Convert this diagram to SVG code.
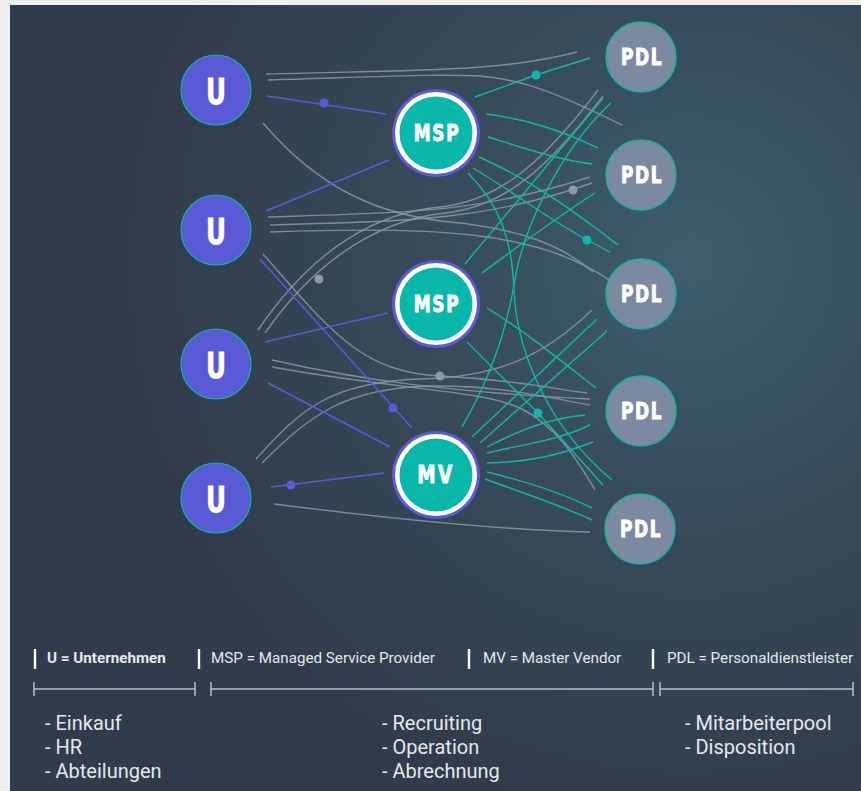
<svg xmlns="http://www.w3.org/2000/svg" width="861" height="791" viewBox="0 0 861 791">
<defs>
<radialGradient id="bg" gradientUnits="userSpaceOnUse" cx="690" cy="260" r="560">
<stop offset="0" stop-color="#3b5e6d"/>
<stop offset="0.45" stop-color="#374b5b"/>
<stop offset="1" stop-color="#323b4b"/>
</radialGradient>
<style>
.g{fill:none;stroke:#8d97a6;stroke-width:1.4;opacity:0.85}
.p{fill:none;stroke:#5a59d6;stroke-width:1.5}
.t{fill:none;stroke:#0fb8a9;stroke-width:1.4}
.dg{fill:#8d97a6}
.dp{fill:#5a59d6}
.dt{fill:#0fb8a9}
.u{fill:#5a59d6;stroke:#14b3a6;stroke-width:1.2}
.pdl{fill:#7b8aa0;stroke:#14b3a6;stroke-width:1.4}
.ring{fill:#5a59d6}
.white{fill:#ffffff}
.core{fill:#0ab8aa}
.lbl{font-family:"DejaVu Sans Condensed","DejaVu Sans",sans-serif;font-weight:bold;fill:#ffffff;stroke:#ffffff;stroke-width:0.9;text-anchor:middle}
.leg{font-family:Roboto,"Liberation Sans",sans-serif;font-size:15.2px;fill:#e4e8ee}
.list{font-family:Roboto,"Liberation Sans",sans-serif;font-size:20px;fill:#e4e8ee}
.bar{stroke:#ffffff;stroke-width:2.4}
.br{stroke:#b7bec9;stroke-width:1.5;fill:none}
</style>
</defs>
<rect x="0" y="0" width="861" height="791" fill="#efefef"/>
<rect x="10" y="5" width="851" height="786" fill="url(#bg)"/>

<g id="connectors">
<path class="g" d="M266,74 C420,70 500,72 577,52"/>
<path class="g" d="M268,80 C400,76 440,74 480,76 C530,80 570,100 622,125"/>
<path class="g" d="M263,123 C320,190 380,215 450,222 C520,229 562,245 593,272"/>
<path class="g" d="M268,217 C420,212 480,212 590,177"/>
<path class="g" d="M270,225 C420,221 490,219 592,183"/>
<path class="g" d="M270,232 C430,226 540,230 612,282"/>
<path class="g" d="M263,254 C330,330 360,372 440,376 C520,380 560,390 587,393"/>
<path class="g" d="M258,330 C300,268 360,214 440,207 C500,201 545,160 598,90"/>
<path class="g" d="M265,333 C306,274 366,221 446,213 C506,206 550,166 603,96"/>
<path class="g" d="M272,360 C360,380 450,392 590,399"/>
<path class="g" d="M272,367 C400,390 480,390 520,408 C560,428 580,465 595,490"/>
<path class="g" d="M256,459 C300,410 330,382 420,379 C500,377 545,355 592,310"/>
<path class="g" d="M262,463 C310,415 345,388 430,386 C500,385 550,398 590,405"/>
<path class="g" d="M274,504 C400,520 500,530 590,532"/>
<path class="p" d="M267,96 L386,114"/>
<path class="p" d="M266,211 L389,160"/>
<path class="p" d="M260,259 L412,428"/>
<path class="p" d="M265,342 L388,313"/>
<path class="p" d="M268,383 L390,447"/>
<path class="p" d="M271,487 L384,473"/>
<path class="t" d="M475,97 L536,75 L590,58"/>
<path class="t" d="M486,114 C530,120 560,130 598,148"/>
<path class="t" d="M488,137 C530,150 560,160 592,164"/>
<path class="t" d="M479,157 C520,175 560,200 618,245"/>
<path class="t" d="M473,168 C510,190 550,220 587,240 L610,252"/>
<path class="t" d="M468,173 C500,205 512,240 514,290 C516,340 540,420 612,480"/>
<path class="t" d="M465,264 C510,210 560,150 603,98"/>
<path class="t" d="M482,273 C520,245 560,215 595,193"/>
<path class="t" d="M487,308 C530,335 560,360 596,388"/>
<path class="t" d="M467,342 L538,413 L603,485"/>
<path class="t" d="M462,427 C495,370 508,320 514,285 C522,230 560,150 611,103"/>
<path class="t" d="M472,437 L597,319"/>
<path class="t" d="M480,443 L607,331"/>
<path class="t" d="M487,447 C520,430 550,418 585,415"/>
<path class="t" d="M487,453 C520,445 560,440 590,425"/>
<path class="t" d="M487,463 C530,462 560,455 593,442"/>
<path class="t" d="M487,472 C520,480 560,492 592,508"/>
<path class="t" d="M485,479 C520,492 560,505 592,520"/>
<circle class="dp" cx="324" cy="103" r="4.5"/>
<circle class="dp" cx="393" cy="408" r="4.5"/>
<circle class="dp" cx="291" cy="485" r="4.5"/>
<circle class="dg" cx="319" cy="279" r="4.5"/>
<circle class="dg" cx="440" cy="376" r="4.5"/>
<circle class="dg" cx="573" cy="190" r="4.5"/>
<circle class="dt" cx="536" cy="75" r="4.5"/>
<circle class="dt" cx="587" cy="240" r="4.5"/>
<circle class="dt" cx="538" cy="413" r="4.5"/>
</g>

<g id="u1"><circle class="u" cx="216" cy="90" r="35"/><text class="lbl" transform="translate(216,104) scale(0.78,1)" font-size="35">U</text></g>
<g id="u2"><circle class="u" cx="216" cy="230" r="35"/><text class="lbl" transform="translate(216,244) scale(0.78,1)" font-size="35">U</text></g>
<g id="u3"><circle class="u" cx="216" cy="364" r="35"/><text class="lbl" transform="translate(216,378) scale(0.78,1)" font-size="35">U</text></g>
<g id="u4"><circle class="u" cx="216" cy="498" r="35"/><text class="lbl" transform="translate(216,512) scale(0.78,1)" font-size="35">U</text></g>

<g id="msp1"><circle class="ring" cx="436" cy="133" r="44"/><circle class="white" cx="436" cy="133" r="41"/><circle class="core" cx="436" cy="133" r="36.5"/><text class="lbl" transform="translate(437,141) scale(0.82,1)" font-size="23" letter-spacing="2">MSP</text></g>
<g id="msp2"><circle class="ring" cx="436" cy="304" r="44"/><circle class="white" cx="436" cy="304" r="41"/><circle class="core" cx="436" cy="304" r="36.5"/><text class="lbl" transform="translate(437,312) scale(0.82,1)" font-size="23" letter-spacing="2">MSP</text></g>
<g id="mv"><circle class="ring" cx="436" cy="475" r="44"/><circle class="white" cx="436" cy="475" r="41"/><circle class="core" cx="436" cy="475" r="36.5"/><text class="lbl" transform="translate(436,483) scale(0.82,1)" font-size="25" letter-spacing="3">MV</text></g>

<g id="pdl1"><circle class="pdl" cx="641" cy="57" r="35"/><text class="lbl" transform="translate(642,65) scale(0.82,1)" font-size="23" letter-spacing="2">PDL</text></g>
<g id="pdl2"><circle class="pdl" cx="641" cy="175" r="35"/><text class="lbl" transform="translate(642,183) scale(0.82,1)" font-size="23" letter-spacing="2">PDL</text></g>
<g id="pdl3"><circle class="pdl" cx="641" cy="294" r="35"/><text class="lbl" transform="translate(642,302) scale(0.82,1)" font-size="23" letter-spacing="2">PDL</text></g>
<g id="pdl4"><circle class="pdl" cx="641" cy="411" r="35"/><text class="lbl" transform="translate(642,419) scale(0.82,1)" font-size="23" letter-spacing="2">PDL</text></g>
<g id="pdl5"><circle class="pdl" cx="640" cy="529" r="35"/><text class="lbl" transform="translate(641,537) scale(0.82,1)" font-size="23" letter-spacing="2">PDL</text></g>

<g id="legend">
<line class="bar" x1="35" y1="649" x2="35" y2="669"/>
<text class="leg" x="47" y="663" font-weight="bold" fill="#ffffff" font-size="14.5">U = Unternehmen</text>
<line class="bar" x1="199" y1="649" x2="199" y2="669"/>
<text class="leg" x="211" y="663">MSP = Managed Service Provider</text>
<line class="bar" x1="469" y1="649" x2="469" y2="669"/>
<text class="leg" x="483" y="663">MV = Master Vendor</text>
<line class="bar" x1="653" y1="649" x2="653" y2="669"/>
<text class="leg" x="667" y="663">PDL = Personaldienstleister</text>

<path class="br" d="M34,682 V696 M34,689 H195 M195,682 V696"/>
<path class="br" d="M211,682 V696 M211,689 H653 M653,682 V696"/>
<path class="br" d="M660,682 V696 M660,689 H853 M853,682 V696"/>

<text class="list" x="45" y="730">- Einkauf</text>
<text class="list" x="45" y="754">- HR</text>
<text class="list" x="45" y="778">- Abteilungen</text>
<text class="list" x="382" y="730">- Recruiting</text>
<text class="list" x="382" y="754">- Operation</text>
<text class="list" x="382" y="778">- Abrechnung</text>
<text class="list" x="685" y="730">- Mitarbeiterpool</text>
<text class="list" x="685" y="754">- Disposition</text>
</g>
</svg>
